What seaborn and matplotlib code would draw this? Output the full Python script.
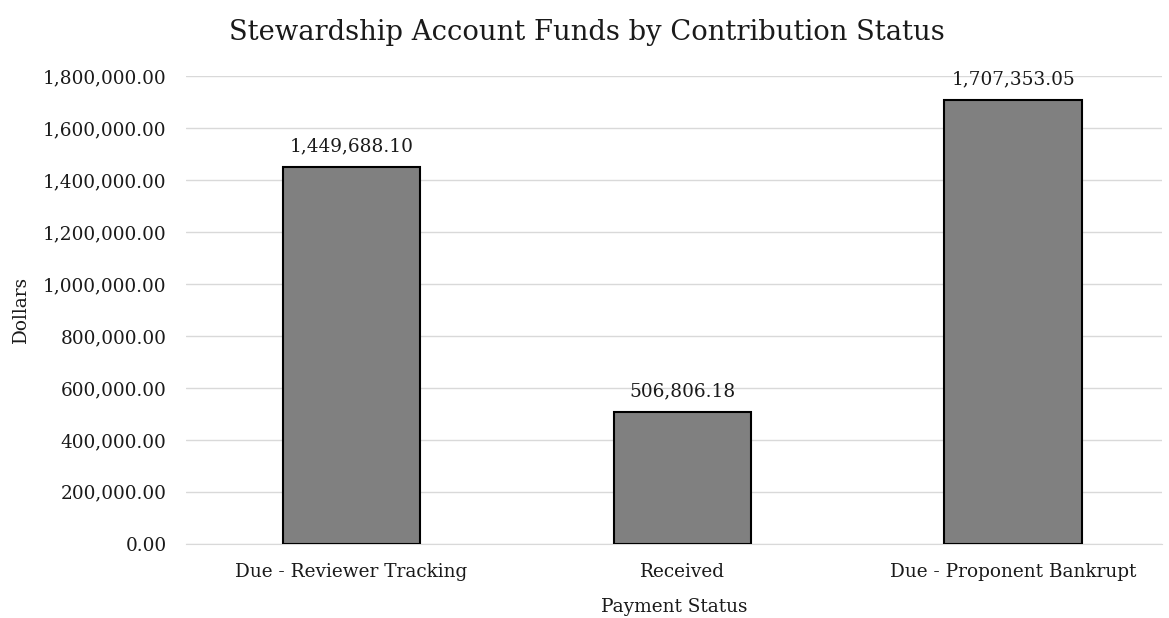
import matplotlib
matplotlib.use("Agg")
import matplotlib.pyplot as plt
import seaborn as sns
import pandas as pd
from matplotlib.ticker import FuncFormatter, MultipleLocator

categories = ["Due - Reviewer Tracking", "Received", "Due - Proponent Bankrupt"]
amounts = [1449688.10, 506806.18, 1707353.05]

df = pd.DataFrame({"status": categories, "dollars": amounts})

sns.set_style("white")
plt.rcParams["font.family"] = ["DejaVu Serif"]

txt = "#1a1a1a"
fig = plt.figure(figsize=(11.69, 6.18), dpi=100)
ax = fig.add_axes([0.159, 0.12, 0.835, 0.757])

sns.barplot(data=df, x="status", y="dollars", color="#808080", saturation=1,
            width=0.415, edgecolor="black", linewidth=1.5, ax=ax, zorder=3)

ax.set_xlim(-0.5, 2.45)
ax.set_ylim(0, 1800000)
ax.yaxis.set_major_locator(MultipleLocator(200000))
ax.yaxis.set_major_formatter(FuncFormatter(lambda v, p: f"{v:,.2f}"))
ax.grid(axis="y", color="#d9d9d9", linewidth=1, zorder=0)
for s in ["top", "right", "left"]:
    ax.spines[s].set_visible(False)
ax.spines["bottom"].set_color("#d9d9d9")
ax.tick_params(axis="both", length=0, labelsize=13.3, colors=txt, pad=14)

for i, v in enumerate(amounts):
    ax.annotate(f"{v:,.2f}", (i, v), xytext=(0, 11), textcoords="offset points",
                ha="center", va="baseline", fontsize=13.3, color=txt)

ax.set_xlabel("Payment Status", fontsize=13.3, color=txt, labelpad=12)
ax.set_ylabel("Dollars", fontsize=13.3, color=txt, labelpad=9)
fig.text(0.502, 0.948, "Stewardship Account Funds by Contribution Status",
         fontsize=19.7, color=txt, ha="center", va="center")

fig.savefig("out.png", dpi=100)
